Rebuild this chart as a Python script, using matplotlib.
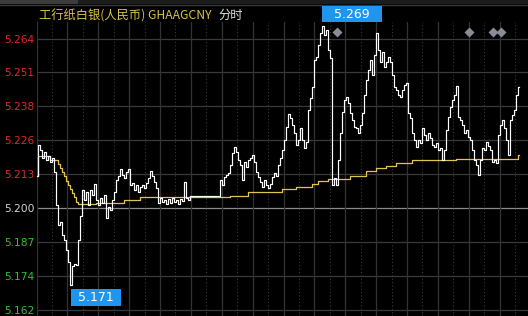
import numpy as np
import matplotlib.pyplot as plt
from matplotlib.patches import Rectangle
from matplotlib.lines import Line2D

# =============================
# Data (one sample every ~2 px of the intraday session)
# =============================
PRICE = [
    5.2121, 5.2239, 5.2220, 5.2189, 5.2212, 5.2182, 5.2197, 5.2174, 5.2189, 5.2136,
    5.2011, 5.1936, 5.1947, 5.1898, 5.1879, 5.1841, 5.1796, 5.1710, 5.1780, 5.1788,
    5.1784, 5.1879, 5.1970, 5.2068, 5.2030, 5.2061, 5.2011, 5.2068, 5.2049, 5.2091,
    5.2030, 5.2011, 5.2038, 5.2019, 5.2049, 5.1962, 5.2004, 5.1992, 5.2030, 5.2061,
    5.2106, 5.2121, 5.2148, 5.2125, 5.2114, 5.2136, 5.2148, 5.2087, 5.2095, 5.2068,
    5.2087, 5.2061, 5.2080, 5.2087, 5.2076, 5.2095, 5.2114, 5.2140, 5.2121, 5.2098,
    5.2076, 5.2019, 5.2038, 5.2023, 5.2030, 5.2015, 5.2034, 5.2019, 5.2038, 5.2023,
    5.2030, 5.2015, 5.2034, 5.2027, 5.2098, 5.2038, 5.2030, 5.2045, 5.2045, 5.2045,
    5.2045, 5.2045, 5.2045, 5.2045, 5.2045, 5.2045, 5.2045, 5.2045, 5.2045, 5.2045,
    5.2045, 5.2045, 5.2106, 5.2087, 5.2117, 5.2125, 5.2133, 5.2163, 5.2208, 5.2231,
    5.2212, 5.2182, 5.2163, 5.2106, 5.2174, 5.2155, 5.2182, 5.2189, 5.2201, 5.2174,
    5.2136, 5.2117, 5.2098, 5.2080, 5.2106, 5.2087, 5.2076, 5.2091, 5.2117, 5.2133,
    5.2121, 5.2163, 5.2189, 5.2220, 5.2257, 5.2307, 5.2356, 5.2341, 5.2314, 5.2284,
    5.2239, 5.2257, 5.2303, 5.2257, 5.2227, 5.2250, 5.2371, 5.2416, 5.2458, 5.2560,
    5.2572, 5.2617, 5.2663, 5.2690, 5.2655, 5.2674, 5.2598, 5.2568, 5.2087, 5.2114,
    5.2087, 5.2182, 5.2284, 5.2363, 5.2409, 5.2420, 5.2398, 5.2360, 5.2333, 5.2307,
    5.2303, 5.2284, 5.2314, 5.2360, 5.2428, 5.2485, 5.2522, 5.2560, 5.2504, 5.2579,
    5.2663, 5.2598, 5.2553, 5.2591, 5.2534, 5.2553, 5.2572, 5.2553, 5.2504, 5.2458,
    5.2447, 5.2428, 5.2420, 5.2447, 5.2466, 5.2473, 5.2360, 5.2341, 5.2284, 5.2257,
    5.2231, 5.2257, 5.2246, 5.2303, 5.2276, 5.2257, 5.2284, 5.2265, 5.2239, 5.2231,
    5.2246, 5.2220, 5.2227, 5.2182, 5.2220, 5.2295, 5.2345, 5.2382, 5.2409, 5.2428,
    5.2462, 5.2345, 5.2333, 5.2314, 5.2284, 5.2295, 5.2269, 5.2257, 5.2220, 5.2182,
    5.2163, 5.2125, 5.2182, 5.2227, 5.2220, 5.2250, 5.2235, 5.2220, 5.2174, 5.2182,
    5.2170, 5.2276, 5.2314, 5.2333, 5.2303, 5.2257, 5.2201, 5.2333, 5.2352, 5.2371,
    5.2428, 5.2458,
]

# average price line: levels and how many samples each level lasts
AVG_LEVELS = [5.2121, 5.2197, 5.2182, 5.2167, 5.2151, 5.2136, 5.2121, 5.2102, 5.2087,
              5.2072, 5.2057, 5.2042, 5.2023, 5.2015, 5.2019, 5.2030, 5.2042, 5.2047,
              5.2061, 5.2073, 5.2080, 5.2091, 5.2101, 5.2109, 5.2121, 5.2140, 5.2150,
              5.2159, 5.2169, 5.2181, 5.2187, 5.2201]
AVG_RUNS = [1, 6, 4, 1, 1, 1, 1, 1, 1,
            1, 1, 1, 1, 9, 14, 8, 45, 9,
            17, 7, 8, 3, 5, 11, 8, 5, 5,
            5, 8, 22, 31, 1]

PREV_CLOSE = 5.200
TICK_POS = [5.26417, 5.25133, 5.2385, 5.22567, 5.21283, 5.2, 5.18717, 5.17433, 5.1615]
TICK_LABELS = ['5.264', '5.251', '5.238', '5.226', '5.213', '5.200', '5.187', '5.174', '5.162']
EVENT_IDX = [150, 216, 228, 232]

TITLE = '工行纸白银(人民币) GHAAGCNY'
SUBTITLE = '分时'

# =============================
# Style
# =============================
W, H = 528, 316
RED, GREEN, NEUTRAL = '#e0282c', '#2ec22e', '#d2d2d2'
TAG_BLUE = '#1e96f0'
CJK = ['Noto Sans CJK SC', 'DejaVu Sans']

fig = plt.figure(figsize=(W / 100, H / 100), dpi=100, facecolor='black')
ax = fig.add_axes([36.5 / W, 0, 494 / W, 294 / H])
ax.set_facecolor('black')
ax.set_xlim(-0.25, 246.75)
ax.set_ylim(5.15911, 5.27042)
for s in ax.spines.values():
    s.set_visible(False)

# grid
for v in TICK_POS:
    if v == PREV_CLOSE:
        ax.axhline(v, color='#8a8a8a', lw=0.9, zorder=1)
    else:
        ax.axhline(v, color='#3a3a3a', lw=0.9, zorder=1)
for k in range(33):
    xv = -0.25 + k * 7.71875
    if k % 2 == 0:
        ax.axvline(xv, color='#333333', lw=0.9, zorder=1)
    else:
        ax.axvline(xv, color='#3a3a3a', lw=0.8, ls=(0, (1, 2)), zorder=1)

x = np.arange(len(PRICE))
avg = np.repeat(AVG_LEVELS, AVG_RUNS)
ax.plot(x, avg, color='#e3c54d', lw=0.9, drawstyle='steps-mid', zorder=3)
ax.plot(x, PRICE, color='white', lw=0.85, drawstyle='steps-mid', zorder=4)

ax.plot(EVENT_IDX, [5.2666] * len(EVENT_IDX), 'D', color='#8a8d96', ms=5.0,
        mec='none', zorder=5)

# ticks
ax.set_xticks([])
ax.set_yticks(TICK_POS, TICK_LABELS)
ax.tick_params(axis='y', length=0, pad=1.5, labelsize=7.7)
for lbl, v in zip(ax.get_yticklabels(), TICK_POS):
    if v > PREV_CLOSE:
        lbl.set_color(RED)
    elif v < PREV_CLOSE:
        lbl.set_color(GREEN)
    else:
        lbl.set_color(NEUTRAL)

# top strip
fig.add_artist(Rectangle((0, (H - 3.5) / H), 1, 3.5 / H, transform=fig.transFigure,
                         color='#1c1c1c', lw=0))
fig.add_artist(Rectangle((0, (H - 3.5) / H), 78 / W, 3.5 / H, transform=fig.transFigure,
                         color='#3c3c3c', lw=0))
fig.add_artist(Line2D([0, 1], [(H - 4.7) / H] * 2, transform=fig.transFigure,
                      color='#3a3a3a', lw=1.0))

# title
fig.text(39 / W, 1 - 15.5 / H, TITLE, color='#d9c441', fontsize=8.8, family=CJK,
         ha='left', va='center')
fig.text(218 / W, 1 - 15.5 / H, SUBTITLE, color='#e0e0e0', fontsize=8.8, family=CJK,
         ha='left', va='center')


# max / min tags
def price_tag(i, v, dx, dy, w, h):
    px, py = ax.transData.transform((i, v))
    left, bottom = px + dx, py + dy
    fig.add_artist(Rectangle((left / W, bottom / H), w / W, h / H,
                             transform=fig.transFigure, color=TAG_BLUE, lw=0, zorder=10))
    fig.text((left + w / 2) / W, (bottom + h / 2) / H, f'{v:.3f}', color='white',
             fontsize=9, ha='center', va='center', zorder=11)


prices = np.array(PRICE)
i_max, i_min = int(prices.argmax()), int(prices.argmin())
price_tag(i_max, prices[i_max], -1.3, 3.3, 60, 16.7)
price_tag(i_min, prices[i_min], 0, -21.7, 49.7, 17.4)

fig.savefig('out.png', dpi=100, facecolor='black')
